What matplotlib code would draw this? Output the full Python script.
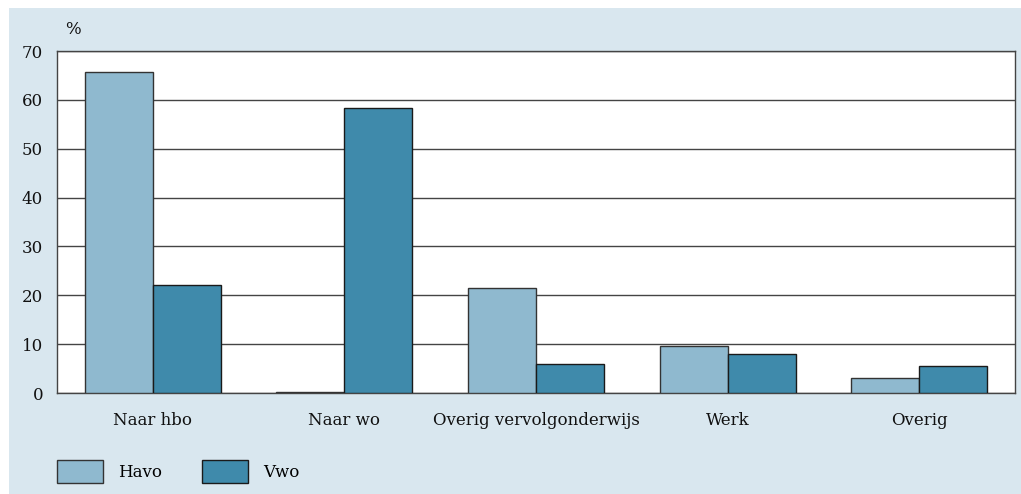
import matplotlib.pyplot as plt
import numpy as np
from matplotlib.patches import Rectangle

categories = ["Naar hbo", "Naar wo", "Overig vervolgonderwijs", "Werk", "Overig"]
havo = [65.8, 0.2, 21.5, 9.6, 3.1]
vwo = [22.1, 58.3, 5.9, 8.0, 5.5]
series_names = ["Havo", "Vwo"]

plt.rcParams['font.family'] = ['DejaVu Serif']

fig = plt.figure(figsize=(10.21, 4.94), dpi=100)
fig.patch.set_facecolor('white')
# light blue panel behind the chart
fig.add_artist(Rectangle((9 / 1021, 0), 1, 486 / 494, transform=fig.transFigure,
                         facecolor='#d9e7ef', edgecolor='none', zorder=0))

ax = fig.add_axes([57 / 1021, (494 - 393) / 494, (1015 - 57) / 1021, (393 - 51) / 494])
ax.set_facecolor('white')

x = np.arange(len(categories))
w = 0.355
ax.bar(x - w / 2, havo, w, color='#8fb9cf', edgecolor='#333333', linewidth=1, zorder=3, label=series_names[0])
ax.bar(x + w / 2, vwo, w, color='#3f8aab', edgecolor='#1a1a1a', linewidth=1, zorder=3, label=series_names[1])

ax.set_xlim(-0.5, len(categories) - 0.5)
ax.set_ylim(0, 70)
ax.set_yticks(range(0, 71, 10))
ax.yaxis.grid(True, color='#444444', linewidth=1, zorder=1)
ax.set_axisbelow(True)
ax.set_xticks(x)
ax.set_xticklabels(categories)
ax.tick_params(axis='y', length=0, labelsize=12, colors='#111111', pad=10)
ax.tick_params(axis='x', length=0, labelsize=12, colors='#111111', pad=14)
for s in ax.spines.values():
    s.set_color('#444444')
    s.set_linewidth(1)

fig.text(65 / 1021, 1 - 30 / 494, "%", fontsize=12, va='center', ha='left', color='#111111')

ax.legend(loc='upper left', bbox_to_anchor=(0, -0.195), ncol=2, frameon=False,
          fontsize=12, handlelength=2.75, handleheight=1.75, columnspacing=2.4,
          handletextpad=0.9, borderaxespad=0, borderpad=0)

fig.savefig('out.png', dpi=100)
